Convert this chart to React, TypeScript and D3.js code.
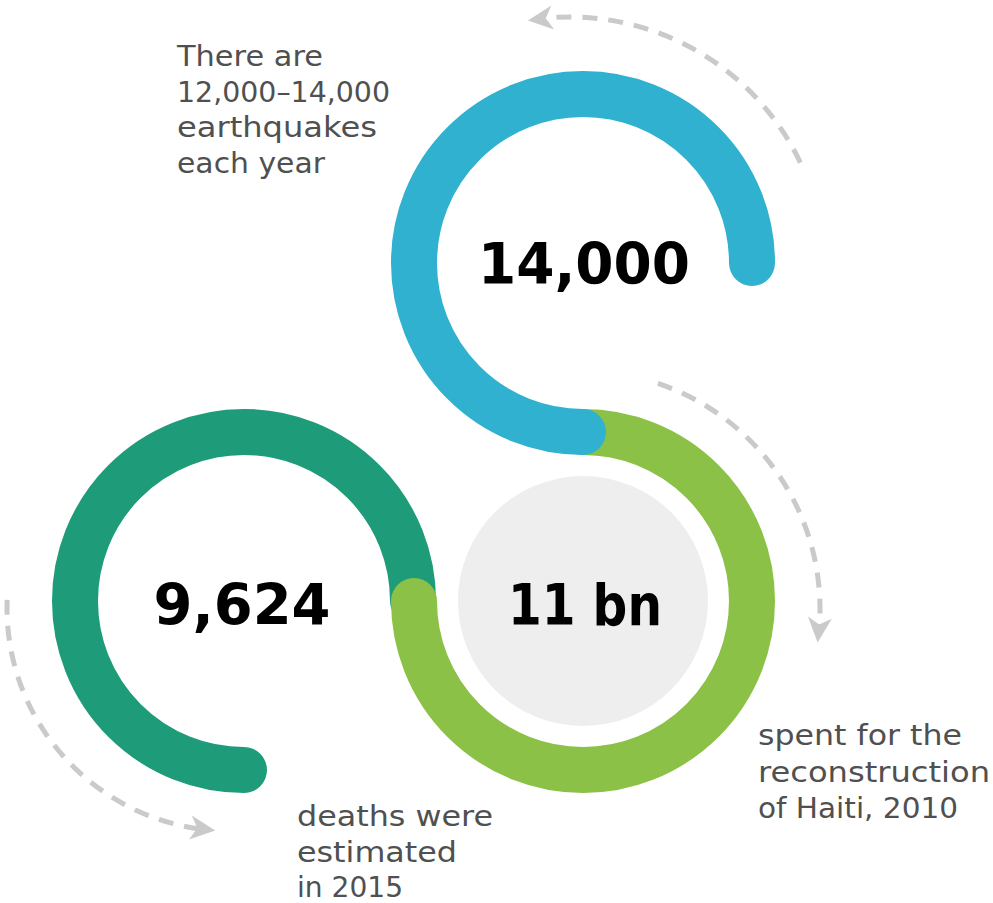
import React from "react";
import * as d3 from "d3";

// ---- data ----
const statValues = ["14,000", "9,624", "11 bn"];
const statSweepDeg = [270, 270, 270];
const descBlue = ["There are", "12,000–14,000", "earthquakes", "each year"];
const descTeal = ["deaths were", "estimated", "in 2015"];
const descLime = ["spent for the", "reconstruction", "of Haiti, 2010"];

// ---- layout / style ----
const W = 993;
const H = 903;
const R = 169;
const SW = 46;
const rings = [
  { cx: 583, cy: 263, start: 0, dir: -1, color: "#2FB1CF", numX: 584, numY: 284, numW: 212 },
  { cx: 244, cy: 601, start: 0, dir: -1, color: "#1E9B78", numX: 242, numY: 625, numW: 177 },
  { cx: 583, cy: 601, start: -90, dir: 1, color: "#8BC146", numX: 585, numY: 625, numW: 154 },
];
const drawOrder = [1, 2, 0];
const labelBlocks = [
  { lines: descBlue, x: 177, y: 66, lh: 35.6, widths: [146, 213, 200, 148] },
  { lines: descTeal, x: 297, y: 826, lh: 35.5, widths: [196, 160, 106] },
  { lines: descLime, x: 758, y: 745, lh: 36.5, widths: [204, 232, 200] },
];
const arrows = [
  { cx: 570, cy: 272, r: 255, a0: -25.4, a1: -99.5 },
  { cx: 582, cy: 609, r: 238, a0: -71.4, a1: 8.1 },
  { cx: 230, cy: 608, r: 223, a0: 182.1, a1: 93.8 },
];

const rad = d3.scaleLinear().domain([0, 360]).range([0, 2 * Math.PI]);

function ringPath(i: number) {
  const g = rings[i];
  const a0 = rad(g.start);
  const a1 = a0 + g.dir * rad(statSweepDeg[i]);
  const p = d3.path();
  p.moveTo(g.cx + R * Math.cos(a0), g.cy + R * Math.sin(a0));
  p.arc(g.cx, g.cy, R, a0, a1, g.dir < 0);
  return p.toString();
}

function arrowParts(a: typeof arrows[number]) {
  const dir = a.a1 > a.a0 ? 1 : -1;
  const headLen = 24;
  const t1 = rad(a.a1);
  const tip = [a.cx + a.r * Math.cos(t1), a.cy + a.r * Math.sin(t1)];
  const lineEnd = t1 - dir * ((headLen - 8) / a.r);
  const t0 = rad(a.a0);
  const p = d3.path();
  p.moveTo(a.cx + a.r * Math.cos(t0), a.cy + a.r * Math.sin(t0));
  p.arc(a.cx, a.cy, a.r, t0, lineEnd, dir < 0);
  const tb = t1 - dir * (headLen / a.r);
  const back = [a.cx + a.r * Math.cos(tb), a.cy + a.r * Math.sin(tb)];
  const ang = Math.atan2(tip[1] - back[1], tip[0] - back[0]) * 180 / Math.PI;
  return { line: p.toString(), tip, ang };
}

export default function App() {
  return (
    <svg
      width={W}
      height={H}
      viewBox={`0 0 ${W} ${H}`}
      style={{ position: "absolute", left: 0, top: 0, background: "#fff" }}
    >
      {arrows.map((a, i) => {
        const ap = arrowParts(a);
        return (
          <g key={"ar" + i}>
            <path d={ap.line} fill="none" stroke="#CACACA" strokeWidth={5} strokeDasharray="15 11" />
            <path
              d="M0,0 L-25,-12 L-18,0 L-25,12 Z"
              fill="#CACACA"
              transform={`translate(${ap.tip[0]},${ap.tip[1]}) rotate(${ap.ang})`}
            />
          </g>
        );
      })}
      <circle cx={rings[2].cx} cy={rings[2].cy} r={125} fill="#EEEEEE" />
      {drawOrder.map((i) => (
        <path
          key={"ring" + i}
          d={ringPath(i)}
          fill="none"
          stroke={rings[i].color}
          strokeWidth={SW}
          strokeLinecap="round"
        />
      ))}
      {statValues.map((v, i) => (
        <text
          key={"num" + i}
          x={rings[i].numX}
          y={rings[i].numY}
          textAnchor="middle"
          fontFamily="'DejaVu Sans', sans-serif"
          fontWeight={700}
          fontSize={57}
          fill="#000"
          textLength={rings[i].numW}
          lengthAdjust="spacingAndGlyphs"
        >
          {v}
        </text>
      ))}
      {labelBlocks.map((b, bi) =>
        b.lines.map((ln, li) => (
          <text
            key={`lb${bi}-${li}`}
            x={b.x}
            y={b.y + li * b.lh}
            fontFamily="'DejaVu Sans', sans-serif"
            fontSize={28}
            fill="#505050"
            textLength={b.widths[li]}
            lengthAdjust="spacingAndGlyphs"
          >
            {ln}
          </text>
        ))
      )}
    </svg>
  );
}
